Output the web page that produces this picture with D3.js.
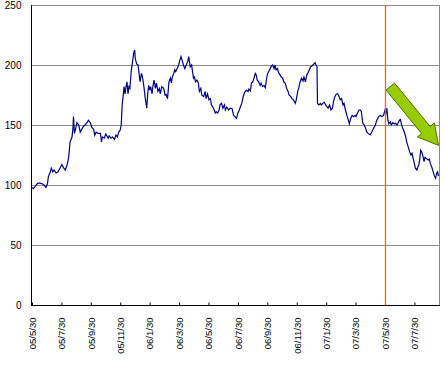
<!DOCTYPE html>
<html><head><meta charset="utf-8">
<script src="https://cdn.jsdelivr.net/npm/d3@7"></script>
<style>html,body{margin:0;padding:0;background:#fff;}svg{display:block;}</style>
</head><body>
<svg id="c" width="445" height="365"></svg>
<script>
// x positions: trading-session index (approx. days since 05/5/30)
const idx = [0,3,7,12,17,21,25,29,32,34,38,40,43,46,50,54,58,62,66,69,73,76,79,83,85,86,88,90,93,97,100,104,107,110,114,117,121,124,128,130,133,137,142,
144,146,150,153,158,160,164,167,171,174,177,180,183,185,187,189,191,193,195,197,199,201,203,206,209,211,213,214,217,220,222,224,227,229,231,233,235,238,240,242,244,246,249,251,253,256,258,261,264,266,
269,273,276,278,281,284,287,289,291,294,296,298,301,304,306,309,312,314,317,320,323,325,328,331,333,335,337,339,342,345,347,350,352,356,359,361,364,367,370,372,375,378,380,382,385,388,390,393,396,399,401,404,408,411,
415,418,421,424,427,430,432,435,437,439,442,445,448,450,453,455,458,461,463,465,467,470,473,475,478,481,484,486,488,490,493,496,499,502,504,506,509,511,514,517,520,522,525,528,531,533,536,539,542,546,
548,551,553,556,559,562,564,567,570,573,575,578,581,584,587,589,591,592,595,598,600,603,606,609,612,614,617,620,623,625,628,631,634,637,639,642,645,647,650,653,656,658,661,664,667,670,672,675,678,681,683,
686,689,692,694,697,701,705,708,712,715,719,722,726,729,732,734,736,738,740,743,745,748,751,754,757,759,762,764,766,769,772,775,777,780,783,786,788,790,792,795,798,800,802,804,806,808,811,813,815,818,821,824,826,829,832,834,837,839,841,843];
const prices = [98,97,99,101.5,101.5,101,100,98,101,107,111,114,111,112.5,110,111,114,117,114,112.5,117,123,136,140,148,157,143,146,152,150,144,147,149,150,152,154,152,148,146.5,141.5,144,143,143,
136,140,139,142.5,139,141,139,140,138,141.7,140,144,146,150,167,173.6,182,176,182,186,176,182,180.5,196,204,210,212.5,205.6,201,200,193,186,193,190,185,179,172,164,176,183,179,182,176,183,187.5,180.5,185,178,180.5,176,
182,180.5,175,175.5,172,186,189,185,190,193,196,194.5,197,200,203,207,203,200,197,200,203,207,198.6,200,194,189,190,186,187.5,185,178,180.5,175,173.6,178,172,176,171,172,166.7,165,162.5,160,161,160,162.5,167,168,164,166.7,162.5,165,162.5,164,
163.5,158,157,155.6,160,162.5,165,168,172,175,178,179,178,180,178.5,185,186,190,193,191.7,187.5,186,183,185,182,183,181,187.5,192,194,196,199,200,197,200,196,197,194,192,190,189,186,185,180.6,178,175,174,172,171,168,
171,178,180.6,186,189,186.7,190,186,192,194,196,198.6,199.4,200.6,202,200,198.6,168,166.7,168,166.7,168,169,166.7,165,164,166.7,162.5,164,169,173.6,175.6,176,173.6,171,172,166.7,168,162.5,158,154,151,155.6,158,157,158,157,160,162.5,162.5,161,
151.4,150,147,144.4,143,141.7,144.4,147,150,154,157,158,157,158,162.5,160,164,154,151,152.7,150,152,151,151.4,150,151.4,154,154.6,151,147,144.4,140,136,132,127.8,125,126.4,123,119.4,114,112.5,115,116.7,121,129,127.8,123.6,119.4,123,122,121,121.5,118,115,111,108,105.6,109.7,111,107.5];

const tickLabels = ["05/5/30","05/7/30","05/9/30","05/11/30","06/1/30","06/3/30","06/5/30","06/7/30","06/9/30","06/11/30","07/1/30","07/3/30","07/5/30","07/7/30"];
const tickIdx = [0,61,122,183,244,305,366,427,488,549,610,671,732,793];
const yTicks = [0,50,100,150,200,250];
const markerIdx = 732;           // vertical marker at 07/5/30
const arrowFrom = [743, 182];    // annotation arrow tail (idx, value)
const arrowTo = [843, 133];      // annotation arrow tip

const svg = d3.select("#c");
const L = 32, R = 439, T = 5, B = 305;
const x = d3.scaleLinear().domain([0, 844]).range([L, R]);
const y = d3.scaleLinear().domain([0, 250]).range([B, T]);

// gridlines
svg.append("g").selectAll("line").data(yTicks.filter(d => d > 0)).join("line")
  .attr("x1", L).attr("x2", R)
  .attr("y1", d => Math.round(y(d)) + 0.5).attr("y2", d => Math.round(y(d)) + 0.5)
  .attr("stroke", "#8c8c8c").attr("stroke-width", 1);
// right border
svg.append("line").attr("x1", R + 0.5).attr("x2", R + 0.5).attr("y1", T).attr("y2", B)
  .attr("stroke", "#8c8c8c");

// y axis
const yAxis = svg.append("g").attr("transform", `translate(${L - 0.5},0)`)
  .call(d3.axisLeft(y).tickValues(yTicks).tickSize(0).tickPadding(10));
yAxis.select(".domain").attr("stroke", "#000").attr("d", `M0,${T}V${B + 0.5}`);
yAxis.selectAll("text").attr("font-family", "Liberation Sans, Arial, sans-serif").attr("font-size", 10).attr("fill", "#000");

// x axis
const xAxis = svg.append("g").attr("transform", `translate(0,${B + 0.5})`)
  .call(d3.axisBottom(x).tickValues(tickIdx).tickFormat((d, i) => tickLabels[i]).tickSize(-3).tickPadding(0));
xAxis.select(".domain").attr("stroke", "#000").attr("d", `M${L - 1},0H${R + 1}`);
xAxis.selectAll(".tick line").attr("stroke", "#000");
xAxis.selectAll("text")
  .attr("font-family", "Liberation Sans, Arial, sans-serif").attr("font-size", 9.5).attr("fill", "#000")
  .attr("text-anchor", "end").attr("dy", "0.35em")
  .attr("transform", "translate(0,12) rotate(-90)").attr("y", 0).attr("x", 0);

// price line
const data = idx.map((d, i) => [d, prices[i]]);
svg.append("path").datum(data)
  .attr("fill", "none").attr("stroke", "#000080").attr("stroke-width", 1.2)
  .attr("d", d3.line().x(d => x(d[0])).y(d => y(d[1])));

// vertical marker
const mx = Math.round(x(markerIdx)) + 0.5;
svg.append("line")
  .attr("x1", mx).attr("x2", mx).attr("y1", T).attr("y2", B)
  .style("stroke", "#ff6600").style("stroke-width", "1.3px");

// arrow annotation
const p0 = [x(arrowFrom[0]), y(arrowFrom[1])], p1 = [x(arrowTo[0]), y(arrowTo[1])];
const dx = p1[0] - p0[0], dy = p1[1] - p0[1], len = Math.hypot(dx, dy);
const ux = dx / len, uy = dy / len, vx = -uy, vy = ux;
const sw = 5.5, hw = 11, hl = 20;
const pt = (a, b) => [p0[0] + ux * a + vx * b, p0[1] + uy * a + vy * b];
const poly = [pt(0, -sw), pt(len - hl, -sw), pt(len - hl, -hw), pt(len, 0), pt(len - hl, hw), pt(len - hl, sw), pt(0, sw)];
svg.append("polygon").attr("points", poly.map(p => p.join(",")).join(" "))
  .attr("fill", "#99cc00").attr("stroke", "#4f6b00").attr("stroke-width", 1);
</script>
</body></html>
